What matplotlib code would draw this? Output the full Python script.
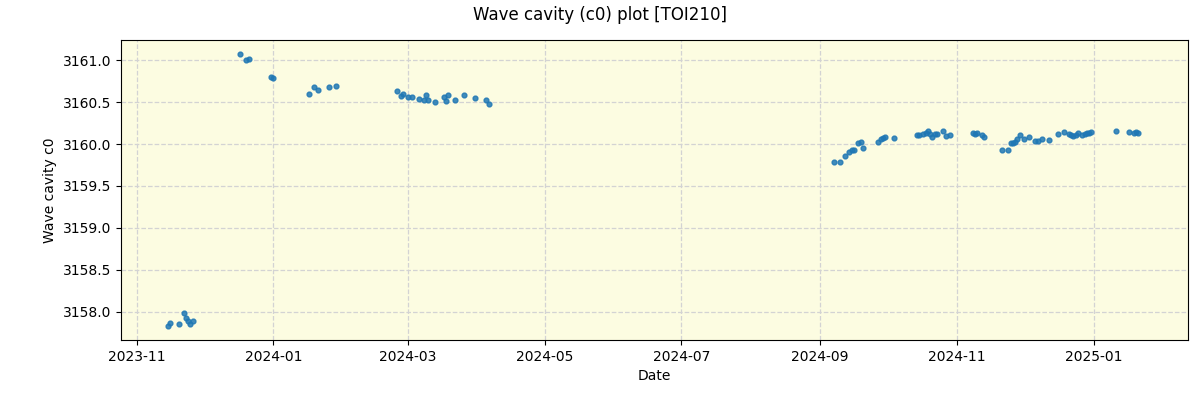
import numpy as np
import pandas as pd
import matplotlib
matplotlib.use("Agg")
import matplotlib.pyplot as plt
import matplotlib.dates as mdates

dates = [
    "2023-11-15", "2023-11-16", "2023-11-20", "2023-11-22", "2023-11-23",
    "2023-11-24", "2023-11-25", "2023-11-26",
    "2023-12-17", "2023-12-20", "2023-12-21", "2023-12-31", "2024-01-01",
    "2024-01-17", "2024-01-19", "2024-01-21", "2024-01-26", "2024-01-29",
    "2024-02-25", "2024-02-27", "2024-02-28", "2024-03-01", "2024-03-03",
    "2024-03-06", "2024-03-08", "2024-03-09", "2024-03-10", "2024-03-13",
    "2024-03-17", "2024-03-18", "2024-03-19", "2024-03-22", "2024-03-26",
    "2024-03-31", "2024-04-05", "2024-04-06",
    "2024-09-07", "2024-09-10", "2024-09-12", "2024-09-14", "2024-09-15",
    "2024-09-16", "2024-09-18", "2024-09-19", "2024-09-20", "2024-09-27",
    "2024-09-28", "2024-09-29", "2024-09-30", "2024-10-04",
    "2024-10-14", "2024-10-15", "2024-10-17", "2024-10-18", "2024-10-19",
    "2024-10-20", "2024-10-21", "2024-10-22", "2024-10-23", "2024-10-26",
    "2024-10-27", "2024-10-29",
    "2024-11-08", "2024-11-09", "2024-11-10", "2024-11-12", "2024-11-13",
    "2024-11-21", "2024-11-24", "2024-11-25", "2024-11-26", "2024-11-27",
    "2024-11-28", "2024-11-29", "2024-12-01", "2024-12-03", "2024-12-06",
    "2024-12-07", "2024-12-09", "2024-12-12", "2024-12-16", "2024-12-19",
    "2024-12-21", "2024-12-22", "2024-12-23", "2024-12-24", "2024-12-25",
    "2024-12-27", "2024-12-28", "2024-12-29", "2024-12-30", "2024-12-31",
    "2025-01-11", "2025-01-17", "2025-01-19", "2025-01-20", "2025-01-21",
]
c0 = [
    3157.824, 3157.865, 3157.853, 3157.985, 3157.925,
    3157.884, 3157.853, 3157.893,
    3161.080, 3161.008, 3161.020, 3160.805, 3160.785,
    3160.602, 3160.686, 3160.650, 3160.686, 3160.698,
    3160.638, 3160.578, 3160.602, 3160.566, 3160.566,
    3160.542, 3160.526, 3160.590, 3160.526, 3160.506,
    3160.566, 3160.514, 3160.582, 3160.530, 3160.590,
    3160.554, 3160.530, 3160.482,
    3159.789, 3159.789, 3159.861, 3159.909, 3159.924,
    3159.933, 3160.016, 3160.028, 3159.957, 3160.028,
    3160.056, 3160.068, 3160.083, 3160.076,
    3160.104, 3160.112, 3160.119, 3160.136, 3160.151,
    3160.116, 3160.088, 3160.124, 3160.116, 3160.151,
    3160.095, 3160.108,
    3160.128, 3160.119, 3160.128, 3160.112, 3160.088,
    3159.928, 3159.928, 3160.008, 3160.016, 3160.026,
    3160.056, 3160.110, 3160.062, 3160.089, 3160.040,
    3160.040, 3160.062, 3160.050, 3160.116, 3160.143,
    3160.119, 3160.104, 3160.095, 3160.112, 3160.136,
    3160.112, 3160.119, 3160.128, 3160.136, 3160.148,
    3160.160, 3160.148, 3160.128, 3160.143, 3160.128,
]

x = pd.to_datetime(dates)

fig = plt.figure(figsize=(12, 4), dpi=100)
ax = fig.add_axes([0.1008, 0.15, 0.889, 0.75])
ax.set_facecolor("#fcfce1")
ax.scatter(x, c0, s=12, color="tab:blue", alpha=0.85, zorder=3)
ax.grid(True, color="lightgray", linestyle="--", linewidth=0.9)
ax.set_axisbelow(True)

ax.xaxis.set_major_locator(mdates.MonthLocator(bymonth=[1, 3, 5, 7, 9, 11]))
ax.xaxis.set_major_formatter(mdates.DateFormatter("%Y-%m"))
ax.set_xlim(pd.Timestamp("2023-10-25"), pd.Timestamp("2025-02-12"))

ax.set_xlabel("Date")
ax.set_ylabel("Wave cavity c0")
fig.suptitle("Wave cavity (c0) plot [TOI210]", fontsize=12, y=0.985)

fig.savefig("out.png")
